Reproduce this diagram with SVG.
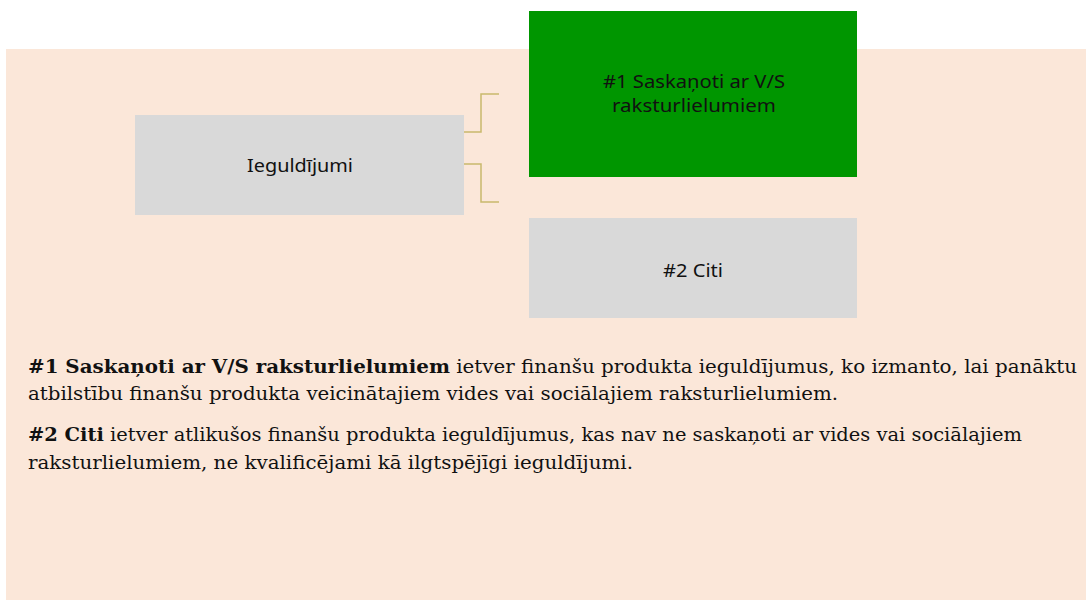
<svg xmlns="http://www.w3.org/2000/svg" width="1086" height="601" viewBox="0 0 1086 601">
<style>
.node-text{font-family:"Noto Sans","Liberation Sans",sans-serif;font-size:17.5px;fill:#111;text-anchor:middle}
.body{font-family:"DejaVu Serif","Liberation Serif",serif;font-size:18px;fill:#111}
.b{font-weight:bold}
.conn{fill:none;stroke:#c9b96c;stroke-width:1.5}
</style>
<rect x="0" y="0" width="1086" height="601" fill="#ffffff"/>
<rect x="6" y="49" width="1080" height="551" fill="#fbe7d9"/>
<g id="connectors">
<polyline class="conn" points="464,132 481,132 481,94 499,94"/>
<polyline class="conn" points="464,164 481,164 481,202 499,202"/>
</g>
<g id="node-ieguldijumi">
<rect x="135" y="115" width="329" height="100" fill="#d9d9d9"/>
<text class="node-text" x="300" y="172" textLength="106" lengthAdjust="spacingAndGlyphs">Ieguldījumi</text>
</g>
<g id="node-saskanoti">
<rect x="529" y="11" width="328" height="166" fill="#009600"/>
<text class="node-text" x="694" y="88" textLength="182" lengthAdjust="spacingAndGlyphs">#1 Saskaņoti ar V/S</text>
<text class="node-text" x="694" y="112" textLength="164" lengthAdjust="spacingAndGlyphs">raksturlielumiem</text>
</g>
<g id="node-citi">
<rect x="529" y="218" width="328" height="100" fill="#d9d9d9"/>
<text class="node-text" x="693" y="277" textLength="60" lengthAdjust="spacingAndGlyphs">#2 Citi</text>
</g>
<g id="legend">
<text class="body" x="28" y="373" textLength="1049" lengthAdjust="spacingAndGlyphs"><tspan class="b">#1 Saskaņoti ar V/S raksturlielumiem</tspan> ietver finanšu produkta ieguldījumus, ko izmanto, lai panāktu</text>
<text class="body" x="28" y="400" textLength="810" lengthAdjust="spacingAndGlyphs">atbilstību finanšu produkta veicinātajiem vides vai sociālajiem raksturlielumiem.</text>
<text class="body" x="28" y="441" textLength="994" lengthAdjust="spacingAndGlyphs"><tspan class="b">#2 Citi</tspan> ietver atlikušos finanšu produkta ieguldījumus, kas nav ne saskaņoti ar vides vai sociālajiem</text>
<text class="body" x="28" y="469" textLength="605" lengthAdjust="spacingAndGlyphs">raksturlielumiem, ne kvalificējami kā ilgtspējīgi ieguldījumi.</text>
</g>
</svg>
